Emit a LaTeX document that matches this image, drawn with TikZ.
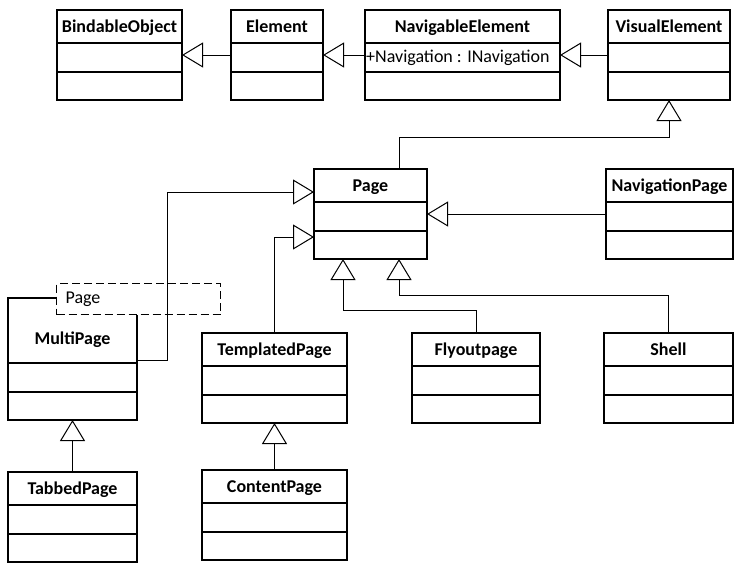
\documentclass[tikz,border=0pt]{standalone}
\usepackage{fontspec}
\setmainfont{Carlito}
\usetikzlibrary{arrows.meta}

\begin{document}
\begin{tikzpicture}[x=1pt,y=-1pt]
  \tikzstyle{class}=[draw, line width=1.2pt, anchor=north west, inner sep=0pt, outer sep=0pt,
                     text height=22pt, text depth=68pt, align=center,
                     font=\fontsize{18}{21}\selectfont\bfseries]
  \tikzstyle{attr}=[anchor=west, inner xsep=1pt, font=\fontsize{18}{21}\selectfont]
  \tikzstyle{tparam}=[draw, line width=1.2pt, dash pattern=on 8pt off 4pt, fill=white,
                      anchor=north west, minimum width=164pt, minimum height=31pt,
                      text width=146pt, inner xsep=9pt, align=left,
                      font=\fontsize{18}{21}\selectfont]
  \tikzstyle{divider}=[line width=1.2pt]
  \tikzstyle{inherit}=[line width=1pt, -{Triangle[open, length=21pt, width=25pt]}]
  \useasboundingbox (0,0) rectangle (741,568);
  \node[class, text width=125pt] (bindable) at (57,10)  {BindableObject};
  \node[class, text width=92pt]  (element)  at (231,10) {Element};
  \node[class, text width=195pt] (navelem)  at (365,10) {NavigableElement};
  \node[attr] (navattr) at ([yshift=-47.5pt]navelem.north west) {+Navigation : INavigation};
  \node[class, text width=122pt] (visual)   at (608,10) {VisualElement};
  \node[class, text width=113pt] (page)     at (314,169) {Page};
  \node[class, text width=127pt] (navpage)  at (606,169) {NavigationPage};
  \node[class, text width=129pt, text height=46pt, text depth=76pt] (multi) at (8,298) {MultiPage};
  \node[tparam] (multiparam) at (56,283) {Page};
  \node[class, text width=145pt] (templ)    at (202,333) {TemplatedPage};
  \node[class, text width=128pt] (flyout)   at (412,333) {Flyoutpage};
  \node[class, text width=129pt] (shell)    at (604,333) {Shell};
  \node[class, text width=129pt] (tabbed)   at (8,472)   {TabbedPage};
  \node[class, text width=145pt] (content)  at (202,470) {ContentPage};
  \foreach \c in {bindable,element,navelem,visual,page,navpage,templ,flyout,shell,tabbed,content}
    \draw[divider] ([yshift=-33pt]\c.north west) -- ([yshift=-33pt]\c.north east)
                   ([yshift=-62pt]\c.north west) -- ([yshift=-62pt]\c.north east);
  \draw[divider] ([yshift=-65pt]multi.north west) -- ([yshift=-65pt]multi.north east)
                 ([yshift=-94pt]multi.north west) -- ([yshift=-94pt]multi.north east);
  \draw[inherit] (element.west) -- (bindable.east);
  \draw[inherit] (navelem.west) -- (element.east);
  \draw[inherit] (visual.west) -- (navelem.east);
  \draw[inherit] ([xshift=28.5pt]page.north) -- ++(0,-32) -| (visual.south);
  \draw[inherit] (navpage.west) -- (page.east);
  \draw[inherit] ([yshift=-62pt]multi.north east) -- ++(30,0) |- ([yshift=22pt]page.west);
  \draw[inherit] (templ.north) |- ([yshift=-23pt]page.west);
  \draw[inherit] (flyout.north) -- ++(0,-23) -| ([xshift=-27.5pt]page.south);
  \draw[inherit] (shell.north) -- ++(0,-38) -| ([xshift=28.5pt]page.south);
  \draw[inherit] (tabbed.north) -- (multi.south);
  \draw[inherit] (content.north) -- (templ.south);
\end{tikzpicture}
\end{document}
